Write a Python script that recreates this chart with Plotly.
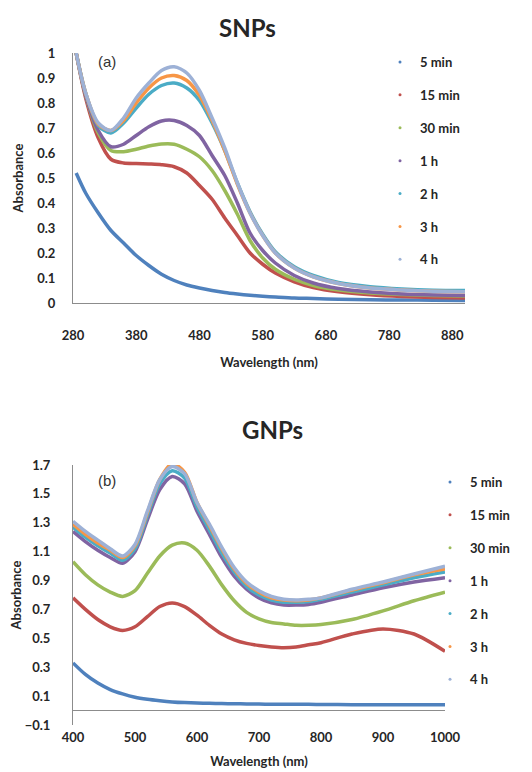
import plotly.graph_objects as go

# ---- series labels and colours ----
labels = ["5 min", "15 min", "30 min", "1 h", "2 h", "3 h", "4 h"]
colors = ["#4F81BD", "#C0504D", "#9BBB59", "#8064A2", "#4BACC6", "#F79646", "#9DB1D6"]

# ---- (a) silver nanoparticles ----
snp_wl = [285, 300, 320, 340, 360, 380, 400, 420, 440, 460, 480, 500, 520, 540,
          560, 580, 600, 630, 660, 700, 750, 800, 850, 900]
snp_5min = [0.52, 0.44, 0.36, 0.29, 0.24, 0.19, 0.15, 0.115, 0.09, 0.072, 0.06, 0.05,
            0.042, 0.036, 0.031, 0.027, 0.024, 0.02, 0.018, 0.015, 0.013, 0.012, 0.011, 0.01]
snp_15min = [1.0, 0.82, 0.66, 0.575, 0.56, 0.558, 0.556, 0.553, 0.545, 0.52, 0.47, 0.415,
             0.34, 0.27, 0.2, 0.155, 0.12, 0.085, 0.062, 0.045, 0.033, 0.026, 0.022, 0.02]
snp_30min = [1.0, 0.83, 0.68, 0.61, 0.605, 0.615, 0.628, 0.636, 0.635, 0.615, 0.585, 0.53,
             0.45, 0.355, 0.25, 0.18, 0.135, 0.095, 0.07, 0.052, 0.04, 0.034, 0.03, 0.028]
snp_1h = [1.0, 0.83, 0.69, 0.625, 0.635, 0.67, 0.705, 0.728, 0.73, 0.71, 0.67, 0.59,
          0.51, 0.4, 0.28, 0.21, 0.16, 0.11, 0.08, 0.058, 0.044, 0.036, 0.032, 0.03]
snp_2h = [1.0, 0.84, 0.71, 0.68, 0.72, 0.78, 0.835, 0.87, 0.88, 0.86, 0.81, 0.72,
          0.61, 0.48, 0.365, 0.275, 0.205, 0.145, 0.11, 0.082, 0.065, 0.056, 0.051, 0.05]
snp_3h = [1.0, 0.84, 0.715, 0.69, 0.73, 0.8, 0.86, 0.9, 0.91, 0.89, 0.83, 0.73,
          0.61, 0.475, 0.36, 0.27, 0.2, 0.14, 0.105, 0.078, 0.06, 0.052, 0.047, 0.045]
snp_4h = [1.0, 0.84, 0.72, 0.69, 0.74, 0.82, 0.88, 0.93, 0.945, 0.92, 0.85, 0.74,
          0.62, 0.48, 0.36, 0.27, 0.2, 0.14, 0.105, 0.078, 0.06, 0.052, 0.047, 0.045]
snp_series = [snp_5min, snp_15min, snp_30min, snp_1h, snp_2h, snp_3h, snp_4h]

# ---- (b) gold nanoparticles ----
gnp_wl = [400, 420, 440, 460, 480, 500, 520, 540, 560, 580, 600, 620, 640, 660, 680,
          700, 720, 740, 760, 780, 800, 850, 900, 950, 1000]
gnp_5min = [0.33, 0.25, 0.19, 0.145, 0.115, 0.092, 0.078, 0.068, 0.06, 0.055, 0.052, 0.05,
            0.048, 0.047, 0.046, 0.045, 0.044, 0.044, 0.043, 0.043, 0.042, 0.041, 0.04, 0.04, 0.04]
gnp_15min = [0.78, 0.7, 0.63, 0.58, 0.555, 0.58, 0.65, 0.72, 0.745, 0.72, 0.66, 0.59,
             0.53, 0.49, 0.465, 0.45, 0.44, 0.435, 0.44, 0.455, 0.47, 0.53, 0.565, 0.53, 0.41]
gnp_30min = [1.03, 0.94, 0.87, 0.82, 0.79, 0.83, 0.95, 1.07, 1.145, 1.16, 1.11, 1.0,
             0.87, 0.76, 0.68, 0.635, 0.61, 0.6, 0.59, 0.59, 0.595, 0.63, 0.69, 0.76, 0.82]
gnp_1h = [1.24, 1.17, 1.11, 1.06, 1.02, 1.1, 1.32, 1.53, 1.62, 1.57, 1.38, 1.22,
          1.06, 0.93, 0.84, 0.78, 0.745, 0.73, 0.73, 0.735, 0.75, 0.8, 0.85, 0.89, 0.92]
gnp_2h = [1.27, 1.2, 1.14, 1.09, 1.04, 1.12, 1.35, 1.57, 1.66, 1.61, 1.41, 1.25,
          1.09, 0.96, 0.86, 0.8, 0.765, 0.75, 0.75, 0.755, 0.77, 0.82, 0.87, 0.92, 0.96]
gnp_3h = [1.29, 1.22, 1.16, 1.11, 1.06, 1.14, 1.37, 1.6, 1.71, 1.65, 1.44, 1.28,
          1.12, 0.98, 0.88, 0.82, 0.78, 0.765, 0.76, 0.765, 0.78, 0.835, 0.885, 0.94, 0.98]
gnp_4h = [1.31, 1.24, 1.18, 1.12, 1.07, 1.15, 1.38, 1.6, 1.69, 1.64, 1.44, 1.29,
          1.13, 0.99, 0.89, 0.83, 0.79, 0.77, 0.765, 0.77, 0.78, 0.84, 0.89, 0.945, 1.0]
gnp_series = [gnp_5min, gnp_15min, gnp_30min, gnp_1h, gnp_2h, gnp_3h, gnp_4h]

W, H = 532, 772
FONT = "Lato"
AXIS_GREY = "#8C8C8C"
TEXT = "#262626"


def px_x(p):
    return p / W


def px_y(p):
    return 1 - p / H


fig = go.Figure()

for name, col, ys in zip(labels, colors, snp_series):
    fig.add_trace(go.Scatter(x=snp_wl, y=ys, mode="lines", name=name,
                             line=dict(color=col, width=3.5, shape="spline", smoothing=0.8),
                             xaxis="x", yaxis="y", showlegend=False, hoverinfo="skip"))
    fig.add_trace(go.Scatter(x=[None], y=[None], mode="markers", name=name,
                             marker=dict(color=col, size=3), legend="legend",
                             legendgroup="a" + name, xaxis="x", yaxis="y"))

for name, col, ys in zip(labels, colors, gnp_series):
    fig.add_trace(go.Scatter(x=gnp_wl, y=ys, mode="lines", name=name,
                             line=dict(color=col, width=3.5, shape="spline", smoothing=0.8),
                             xaxis="x2", yaxis="y2", showlegend=False, hoverinfo="skip"))
    fig.add_trace(go.Scatter(x=[None], y=[None], mode="markers", name=name,
                             marker=dict(color=col, size=3), legend="legend2",
                             legendgroup="b" + name, xaxis="x2", yaxis="y2"))

tick_font = dict(family=FONT, size=13, color=TEXT, weight="bold")
title_font = dict(family=FONT, size=13, color=TEXT, weight="bold")
legend_font = dict(family=FONT, size=13, color=TEXT, weight="bold")
head_font = dict(family=FONT, size=24, color=TEXT, weight="bold")
panel_font = dict(family="Liberation Sans", size=15, color="#333333")


def label_note(text, x, y, font):
    return dict(text=text, x=px_x(x), y=px_y(y), xref="paper", yref="paper",
                xanchor="center", yanchor="middle", showarrow=False, font=font)


fig.update_layout(
    width=W, height=H,
    margin=dict(l=0, r=0, t=0, b=0),
    paper_bgcolor="white", plot_bgcolor="white",
    font=dict(family=FONT, color=TEXT),
    xaxis=dict(domain=[px_x(73), px_x(465)], range=[280, 900], anchor="y",
               tickmode="linear", tick0=280, dtick=100, ticks="", ticklabelstandoff=20,
               showgrid=False, zeroline=False, showline=True, linecolor=AXIS_GREY,
               linewidth=1, tickfont=tick_font, automargin=False,
               title=dict(text="Wavelength (nm)", font=title_font, standoff=16)),
    yaxis=dict(domain=[px_y(303), px_y(53)], range=[0, 1], anchor="x",
               tickmode="array", tickvals=[i / 10 for i in range(11)],
               ticktext=["0", "0.1", "0.2", "0.3", "0.4", "0.5", "0.6", "0.7", "0.8", "0.9", "1"],
               ticks="", ticklabelstandoff=14, showgrid=False, zeroline=False,
               showline=True, linecolor=AXIS_GREY, linewidth=1, tickfont=tick_font,
               automargin=False,
               title=dict(text="Absorbance", font=title_font, standoff=10)),
    xaxis2=dict(domain=[px_x(73), px_x(445)], range=[400, 1000], anchor="y2",
                tickmode="linear", tick0=400, dtick=100, ticks="", ticklabelstandoff=3,
                showgrid=False, zeroline=False, showline=False, tickfont=tick_font,
                automargin=False,
                title=dict(text="Wavelength (nm)", font=title_font, standoff=12)),
    yaxis2=dict(domain=[px_y(725), px_y(465)], range=[-0.1, 1.7], anchor="x2",
                tickmode="linear", tick0=-0.1, dtick=0.2, tickformat=".1f",
                ticks="", ticklabelstandoff=19, showgrid=False,
                zeroline=True, zerolinecolor=AXIS_GREY, zerolinewidth=1,
                showline=True, linecolor=AXIS_GREY, linewidth=1, tickfont=tick_font,
                automargin=False,
                title=dict(text="Absorbance", font=title_font, standoff=0)),
    legend=dict(x=px_x(380), y=px_y(47), xanchor="left", yanchor="top",
                font=legend_font, itemwidth=30, tracegroupgap=13,
                bgcolor="rgba(0,0,0,0)", traceorder="grouped"),
    legend2=dict(x=px_x(430), y=px_y(467), xanchor="left", yanchor="top",
                 font=legend_font, itemwidth=30, tracegroupgap=13,
                 bgcolor="rgba(0,0,0,0)", traceorder="grouped"),
    annotations=[
        label_note("SNPs", 247, 27, head_font),
        label_note("GNPs", 272, 429, head_font),
        label_note("(a)", 107, 62, panel_font),
        label_note("(b)", 107, 480, panel_font),
    ],
)

fig.write_html("out.html")
